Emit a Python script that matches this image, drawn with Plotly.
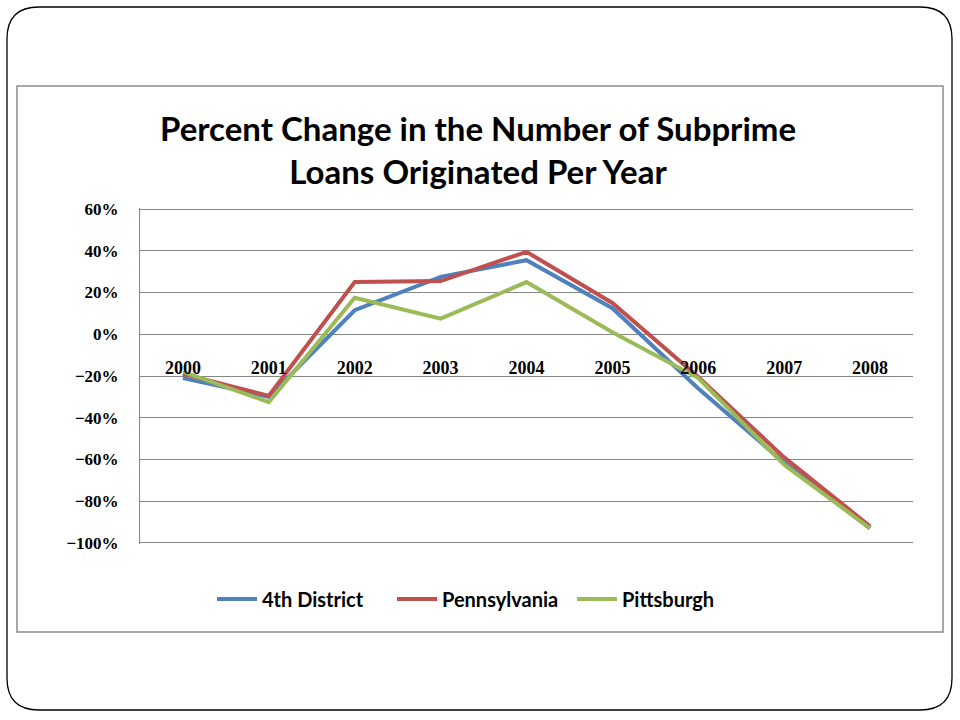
import plotly.graph_objects as go

years = ["2000", "2001", "2002", "2003", "2004", "2005", "2006", "2007", "2008"]
district4 = [-21, -30, 11.5, 27.5, 35.5, 12.5, -26, -61.5, -93]
pennsylvania = [-19, -29.5, 25, 25.5, 39.5, 15, -20.5, -59, -92]
pittsburgh = [-18, -32.5, 17.5, 7.5, 25, 1, -21, -62.5, -93]

series_names = ["4th District", "Pennsylvania", "Pittsburgh"]
series_colors = ["#4F81BD", "#C0504D", "#9BBB59"]

W, H = 960, 720
L, R, T, B = 140, 913, 208, 544  # plot area in pixels (a hair beyond the end gridlines)
Y_RANGE = [-100.5, 60.5]


def px_to_paper(x, y):
    return (x - L) / (R - L), (B - y) / (B - T)


def rounded_rect(x0, y0, x1, y1, r):
    # path in paper coords built from pixel corners
    pts = [
        ("M", x0 + r, y0),
        ("L", x1 - r, y0),
        ("Q", x1, y0, x1, y0 + r),
        ("L", x1, y1 - r),
        ("Q", x1, y1, x1 - r, y1),
        ("L", x0 + r, y1),
        ("Q", x0, y1, x0, y1 - r),
        ("L", x0, y0 + r),
        ("Q", x0, y0, x0 + r, y0),
    ]
    out = []
    for p in pts:
        cmd, coords = p[0], p[1:]
        parts = []
        for i in range(0, len(coords), 2):
            px, py = px_to_paper(coords[i], coords[i + 1])
            parts.append(f"{px:.5f},{py:.5f}")
        out.append(cmd + " " + " ".join(parts))
    return " ".join(out) + " Z"


fig = go.Figure()
for name, vals, color in zip(series_names, [district4, pennsylvania, pittsburgh], series_colors):
    fig.add_trace(
        go.Scatter(
            x=years,
            y=vals,
            mode="lines",
            name=name,
            line=dict(color=color, width=4),
        )
    )

# outer slide frame and chart box
fig.add_shape(
    type="path",
    xref="paper",
    yref="paper",
    path=rounded_rect(7, 7, 952, 710, 32),
    line=dict(color="black", width=1.3),
    layer="below",
)
bx0, by0 = px_to_paper(17, 86)
bx1, by1 = px_to_paper(943, 632)
fig.add_shape(
    type="rect",
    xref="paper",
    yref="paper",
    x0=bx0,
    y0=by1,
    x1=bx1,
    y1=by0,
    line=dict(color="#8C8C8C", width=1.5),
    layer="below",
)

tx, ty = px_to_paper(478, 149)
fig.add_annotation(
    xref="paper",
    yref="paper",
    x=tx,
    y=ty,
    text="Percent Change in the Number of Subprime<br>Loans Originated Per Year",
    showarrow=False,
    font=dict(family="Lato", size=33, color="black", weight="bold"),
    xanchor="center",
    yanchor="middle",
)

zero_pos = (0 - Y_RANGE[0]) / (Y_RANGE[1] - Y_RANGE[0])
lx, ly = px_to_paper(482, 599)
fig.update_layout(
    width=W,
    height=H,
    margin=dict(l=L, r=W - R, t=T, b=H - B),
    paper_bgcolor="white",
    plot_bgcolor="white",
    showlegend=True,
    legend=dict(
        orientation="h",
        x=lx,
        y=ly,
        xanchor="center",
        yanchor="middle",
        font=dict(family="Lato", size=20, color="black", weight="bold"),
        itemwidth=40,
        entrywidth=125,
        traceorder="normal",
    ),
    xaxis=dict(
        type="category",
        range=[-0.5, 8.5],
        anchor="free",
        position=zero_pos,
        showline=False,
        showgrid=False,
        ticks="",
        ticklabelstandoff=21,
        tickfont=dict(family="Liberation Serif", size=18, color="black", weight="bold"),
    ),
    yaxis=dict(
        range=Y_RANGE,
        dtick=20,
        ticksuffix="%",
        showgrid=True,
        gridcolor="#868686",
        gridwidth=1,
        showline=True,
        linecolor="#868686",
        linewidth=1,
        zeroline=False,
        ticks="",
        ticklabelstandoff=17,
        tickfont=dict(family="Liberation Serif", size=17, color="black", weight="bold"),
    ),
)

fig.write_html(
    "out.html",
    config={"displayModeBar": False},
    post_script="document.body.style.margin='0';",
)
